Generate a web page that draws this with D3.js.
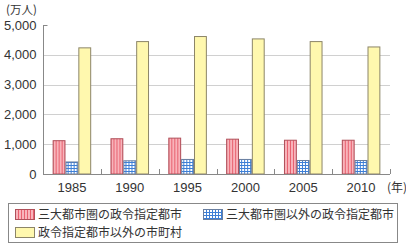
<!DOCTYPE html>
<html>
<head>
<meta charset="utf-8">
<script src="https://cdn.jsdelivr.net/npm/d3@7"></script>
<style>
  body { margin: 0; background: #fff; }
  svg { display: block; font-family: "Noto Sans CJK JP", "Noto Sans", sans-serif; }
</style>
</head>
<body>
<div id="chart"></div>
<script>
// data
const years = ['1985', '1990', '1995', '2000', '2005', '2010'];
const seriesNames = ['三大都市圏の政令指定都市', '三大都市圏以外の政令指定都市', '政令指定都市以外の市町村'];
const bigCities = [1135, 1200, 1220, 1185, 1150, 1150];
const otherCities = [420, 460, 505, 505, 470, 470];
const towns = [4250, 4460, 4630, 4550, 4460, 4280];
const yTicks = [0, 1000, 2000, 3000, 4000, 5000];

const width = 406;
const height = 246;
const margin = { left: 43, right: 16, top: 25, bottom: 72 };
const numFont = '"Liberation Sans", Arial, sans-serif';

const svg = d3.select('#chart')
  .append('svg')
  .attr('width', width)
  .attr('height', height);

// patterns for the bars
const defs = svg.append('defs');

const stripes = defs.append('pattern')
  .attr('id', 'stripes')
  .attr('patternUnits', 'userSpaceOnUse')
  .attr('width', 3)
  .attr('height', 3);
stripes.append('rect').attr('width', 3).attr('height', 3).attr('fill', '#f8b4bb');
stripes.append('rect').attr('width', 1).attr('height', 3).attr('fill', '#e8606e');

const grid = defs.append('pattern')
  .attr('id', 'grid')
  .attr('patternUnits', 'userSpaceOnUse')
  .attr('width', 3)
  .attr('height', 3);
grid.append('rect').attr('width', 3).attr('height', 3).attr('fill', '#ffffff');
grid.append('rect').attr('width', 1).attr('height', 3).attr('fill', '#3d7fd6');
grid.append('rect').attr('width', 3).attr('height', 1).attr('fill', '#3d7fd6');

const fills = ['url(#stripes)', 'url(#grid)', '#fff8ae'];
const strokes = ['#b0505a', '#6a7fa0', '#8c8568'];

// scales
const x = d3.scaleBand()
  .domain(years)
  .range([margin.left, width - margin.right])
  .paddingInner(1 / 3)
  .paddingOuter(1 / 6);

const x1 = d3.scaleBand()
  .domain(d3.range(3))
  .range([0, x.bandwidth()]);

const y = d3.scaleLinear()
  .domain([0, 5000])
  .range([height - margin.bottom, margin.top]);

// gridlines
svg.append('g')
  .selectAll('line')
  .data(yTicks.filter(d => d > 0 && d < 5000))
  .join('line')
  .attr('x1', margin.left)
  .attr('x2', width - margin.right)
  .attr('y1', d => Math.round(y(d)) + 0.5)
  .attr('y2', d => Math.round(y(d)) + 0.5)
  .attr('stroke', '#d0d0d0')
  .attr('stroke-width', 1);

// bars
const rows = years.map((yr, i) => [bigCities[i], otherCities[i], towns[i]]);

const groups = svg.append('g')
  .selectAll('g')
  .data(rows)
  .join('g')
  .attr('transform', (d, i) => `translate(${x(years[i])},0)`);

groups.selectAll('rect')
  .data(d => d)
  .join('rect')
  .attr('x', (d, j) => x1(j) + 0.5)
  .attr('y', d => y(d) + 0.5)
  .attr('width', x1.bandwidth() - 1)
  .attr('height', d => y(0) - y(d) - 0.5)
  .attr('fill', (d, j) => fills[j])
  .attr('stroke', (d, j) => strokes[j])
  .attr('stroke-width', 1);

// y axis
const yAxis = d3.axisLeft(y)
  .tickValues(yTicks)
  .tickSize(-4)
  .tickPadding(7)
  .tickFormat(d3.format(','));

svg.append('g')
  .attr('transform', `translate(${margin.left + 0.5},0)`)
  .call(yAxis)
  .call(g => g.selectAll('.tick line').attr('stroke', '#888'))
  .call(g => g.selectAll('.tick').filter(d => d > 0 && d < 5000).select('line').remove())
  .call(g => g.select('.domain').attr('stroke', '#888').attr('d', `M-0,${y(5000)}V${y(0)}`))
  .call(g => g.selectAll('text').attr('font-size', 13).attr('fill', '#333').attr('font-family', numFont));

// x axis baseline with ticks between groups
const xAxisG = svg.append('g');
xAxisG.append('line')
  .attr('x1', margin.left)
  .attr('x2', width - margin.right)
  .attr('y1', y(0) + 0.5)
  .attr('y2', y(0) + 0.5)
  .attr('stroke', '#888');

const boundaries = years.map(yr => x(yr) + x.bandwidth() + x.step() * x.paddingInner() / 2);
xAxisG.selectAll('.sep')
  .data(boundaries)
  .join('line')
  .attr('x1', d => Math.round(d) + 0.5)
  .attr('x2', d => Math.round(d) + 0.5)
  .attr('y1', y(0))
  .attr('y2', y(0) - 5)
  .attr('stroke', '#888');

xAxisG.selectAll('.yr')
  .data(years)
  .join('text')
  .attr('x', d => x(d) + x.bandwidth() / 2)
  .attr('y', y(0) + 18)
  .attr('text-anchor', 'middle')
  .attr('font-size', 13)
  .attr('font-family', numFont)
  .attr('fill', '#333')
  .text(d => d);

svg.append('text')
  .attr('x', width - margin.right + 7)
  .attr('y', y(0) + 18)
  .attr('text-anchor', 'middle')
  .attr('font-size', 12)
  .attr('fill', '#333')
  .text('(年)');

svg.append('text')
  .attr('x', 6)
  .attr('y', 13.5)
  .attr('font-size', 11.5)
  .attr('fill', '#333')
  .text('(万人)');

// legend
const legend = svg.append('g');
legend.append('rect')
  .attr('x', 8.5)
  .attr('y', 203.5)
  .attr('width', 389)
  .attr('height', 39)
  .attr('fill', '#fff')
  .attr('stroke', '#888');

const legendPos = [[15, 209], [203, 209], [15, 227]];
const items = legend.selectAll('.item')
  .data(seriesNames)
  .join('g')
  .attr('transform', (d, i) => `translate(${legendPos[i][0]},${legendPos[i][1]})`);

items.append('rect')
  .attr('x', 0.5)
  .attr('y', 0.5)
  .attr('width', 19)
  .attr('height', 10)
  .attr('fill', (d, i) => fills[i])
  .attr('stroke', (d, i) => strokes[i]);

items.append('text')
  .attr('x', 23)
  .attr('y', 10)
  .attr('font-size', 12)
  .attr('fill', '#333')
  .text(d => d);
</script>
</body>
</html>
